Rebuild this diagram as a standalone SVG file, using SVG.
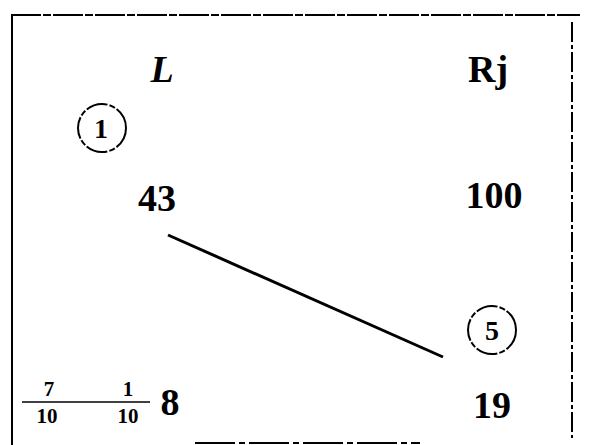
<svg xmlns="http://www.w3.org/2000/svg" width="592" height="445" viewBox="0 0 592 445">
<style>
text{font-family:"Liberation Serif","DejaVu Serif",serif;font-weight:bold;fill:#000;text-anchor:middle}
.big{font-size:38px}
.mid{font-size:28px}
.sm{font-size:21px}
.frame{stroke:#000;fill:none;stroke-width:2}
.node{fill:none;stroke:#000;stroke-width:2;stroke-dasharray:22 2 6 2}
</style>
<rect width="592" height="445" fill="#fff"/>
<g id="frame">
<line class="frame" x1="11" y1="15" x2="580" y2="15" stroke-dasharray="30 2 8 2"/>
<line class="frame" x1="12" y1="14" x2="12" y2="445"/>
<line class="frame" x1="572" y1="22" x2="572" y2="438" stroke-dasharray="20 3 4 3"/>
<line class="frame" x1="195" y1="443" x2="420" y2="443" stroke-dasharray="40 4 6 4"/>
</g>
<g id="label-L"><text class="big" x="162" y="82" font-style="italic">L</text></g>
<g id="label-R"><text class="big" x="488" y="82">Rj</text></g>
<g id="node-1"><circle class="node" cx="102" cy="128" r="24"/><text class="mid" x="101" y="138">1</text></g>
<g id="val-43"><text class="big" x="157" y="211">43</text></g>
<g id="val-100"><text class="big" x="494" y="208">100</text></g>
<g id="node-5"><circle class="node" cx="492" cy="330" r="24"/><text class="mid" x="492" y="340">5</text></g>
<g id="val-19"><text class="big" x="492" y="418">19</text></g>
<g id="connectors"><line x1="168" y1="235" x2="443" y2="357" stroke="#000" stroke-width="3"/></g>
<g id="fraction">
<line x1="22" y1="402" x2="150" y2="402" stroke="#000" stroke-width="1.5"/>
<text class="sm" x="49" y="396">7</text>
<text class="sm" x="47" y="423">10</text>
<text class="sm" x="128" y="396">1</text>
<text class="sm" x="128" y="423">10</text>
<text class="big" x="170" y="415">8</text>
</g>
</svg>
